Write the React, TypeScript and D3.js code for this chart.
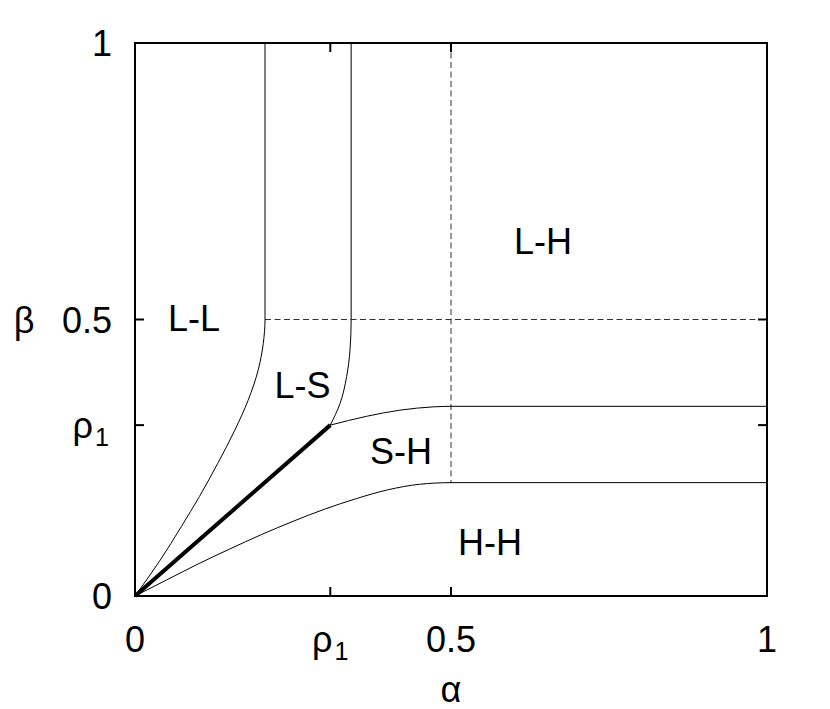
import React from 'react';
import * as d3 from 'd3';

const RHO1 = 0.309;

// Tick values / labels ("_" marks a subscript)
const xTickValues = [0, RHO1, 0.5, 1];
const xTickLabels = ['0', 'ρ_1', '0.5', '1'];
const yTickValues = [0, RHO1, 0.5, 1];
const yTickLabels = ['0', 'ρ_1', '0.5', '1'];

// Phase boundaries, as [alpha, beta]
const llBoundary: [number, number][] = [
  [0.2057, 1], [0.2057, 0.5], [0.203, 0.457], [0.195, 0.409], [0.179, 0.354],
  [0.158, 0.3], [0.131, 0.24], [0.102, 0.18], [0.073, 0.125], [0.04, 0.065], [0, 0],
];
const lsBoundary: [number, number][] = [
  [0.342, 1], [0.342, 0.5], [0.3402, 0.445], [0.3349, 0.397], [0.3244, 0.348], [RHO1, RHO1],
];
const shBoundary: [number, number][] = [
  [RHO1, RHO1], [0.3666, 0.325], [0.419, 0.336], [0.472, 0.342], [0.5, 0.343], [1, 0.343],
];
const hhBoundary: [number, number][] = [
  [0, 0], [0.05, 0.029], [0.1, 0.058], [0.15, 0.085], [0.2, 0.111], [0.25, 0.135],
  [0.3, 0.157], [0.35, 0.176], [0.4, 0.192], [0.45, 0.202], [0.5, 0.205], [1, 0.205],
];
const thickLine: [number, number][] = [[0, 0], [RHO1, RHO1]];
const dashedH: [number, number][] = [[0.2057, 0.5], [1, 0.5]];
const dashedV: [number, number][] = [[0.5, 1], [0.5, 0.205]];

// Region labels
const regionLabels = ['L-L', 'L-S', 'S-H', 'L-H', 'H-H'];
const regionAlpha = [0.0934, 0.265, 0.4209, 0.6456, 0.5617];
const regionBeta = [0.5027, 0.3807, 0.2622, 0.642, 0.0976];

const W = 830;
const H = 709;
const FONT = '"Liberation Sans", Arial, Helvetica, sans-serif';
const FS = 36;

function Label({ text, x, y, anchor }: { text: string; x: number; y: number; anchor: string }) {
  const parts = text.split('_');
  return (
    <text x={x} y={y} textAnchor={anchor} fontFamily={FONT} fontSize={FS} fill="#000">
      <tspan>{parts[0]}</tspan>
      {parts[1] !== undefined && (
        <tspan fontSize={25} dx={2} dy={8}>{parts[1]}</tspan>
      )}
    </text>
  );
}

export default function App() {
  const x = d3.scaleLinear().domain([0, 1]).range([135, 767]);
  const y = d3.scaleLinear().domain([0, 1]).range([596, 43]);

  const lineY = d3.line<[number, number]>().x(d => x(d[0])).y(d => y(d[1])).curve(d3.curveMonotoneY);
  const lineX = d3.line<[number, number]>().x(d => x(d[0])).y(d => y(d[1])).curve(d3.curveMonotoneX);
  const lineL = d3.line<[number, number]>().x(d => x(d[0])).y(d => y(d[1]));

  const tickLen = 9;

  return (
    <svg width={W} height={H} style={{ position: 'absolute', left: 0, top: 0, background: '#fff' }}>
      <rect x={0} y={0} width={W} height={H} fill="#fff" />
      {/* dashed guide lines */}
      <path d={lineL(dashedH) || ''} fill="none" stroke="#333" strokeWidth={1} strokeDasharray="6,3.5" />
      <path d={lineL(dashedV) || ''} fill="none" stroke="#333" strokeWidth={1} strokeDasharray="6,3.5" />
      {/* phase boundaries */}
      <path d={lineY(llBoundary) || ''} fill="none" stroke="#000" strokeWidth={1} />
      <path d={lineY(lsBoundary) || ''} fill="none" stroke="#000" strokeWidth={1} />
      <path d={lineX(shBoundary) || ''} fill="none" stroke="#000" strokeWidth={1} />
      <path d={lineX(hhBoundary) || ''} fill="none" stroke="#000" strokeWidth={1} />
      <path d={lineL(thickLine) || ''} fill="none" stroke="#000" strokeWidth={4} strokeLinecap="butt" />

      {/* frame */}
      <rect x={x(0)} y={y(1)} width={x(1) - x(0)} height={y(0) - y(1)} fill="none" stroke="#000" strokeWidth={2} />

      {/* ticks */}
      {xTickValues.map((v, i) => (
        <g key={'xt' + i}>
          <line x1={x(v)} x2={x(v)} y1={y(0)} y2={y(0) - tickLen} stroke="#000" strokeWidth={2} />
          <line x1={x(v)} x2={x(v)} y1={y(1)} y2={y(1) + tickLen} stroke="#000" strokeWidth={2} />
          <Label text={xTickLabels[i]} x={x(v)} y={652} anchor="middle" />
        </g>
      ))}
      {yTickValues.map((v, i) => (
        <g key={'yt' + i}>
          <line x1={x(0)} x2={x(0) + tickLen} y1={y(v)} y2={y(v)} stroke="#000" strokeWidth={2} />
          <line x1={x(1)} x2={x(1) - tickLen} y1={y(v)} y2={y(v)} stroke="#000" strokeWidth={2} />
          <Label text={yTickLabels[i]} x={yTickLabels[i].includes('_') ? 109 : 112} y={y(v) + 13} anchor="end" />
        </g>
      ))}

      {/* axis titles */}
      <text x={24} y={333} textAnchor="middle" fontFamily={FONT} fontSize={FS}>β</text>
      <text x={451} y={702} textAnchor="middle" fontFamily={FONT} fontSize={FS}>α</text>

      {/* region labels */}
      {regionLabels.map((t, i) => (
        <text key={t} x={x(regionAlpha[i])} y={y(regionBeta[i]) + 13} textAnchor="middle"
          fontFamily={FONT} fontSize={FS}>{t}</text>
      ))}
    </svg>
  );
}
